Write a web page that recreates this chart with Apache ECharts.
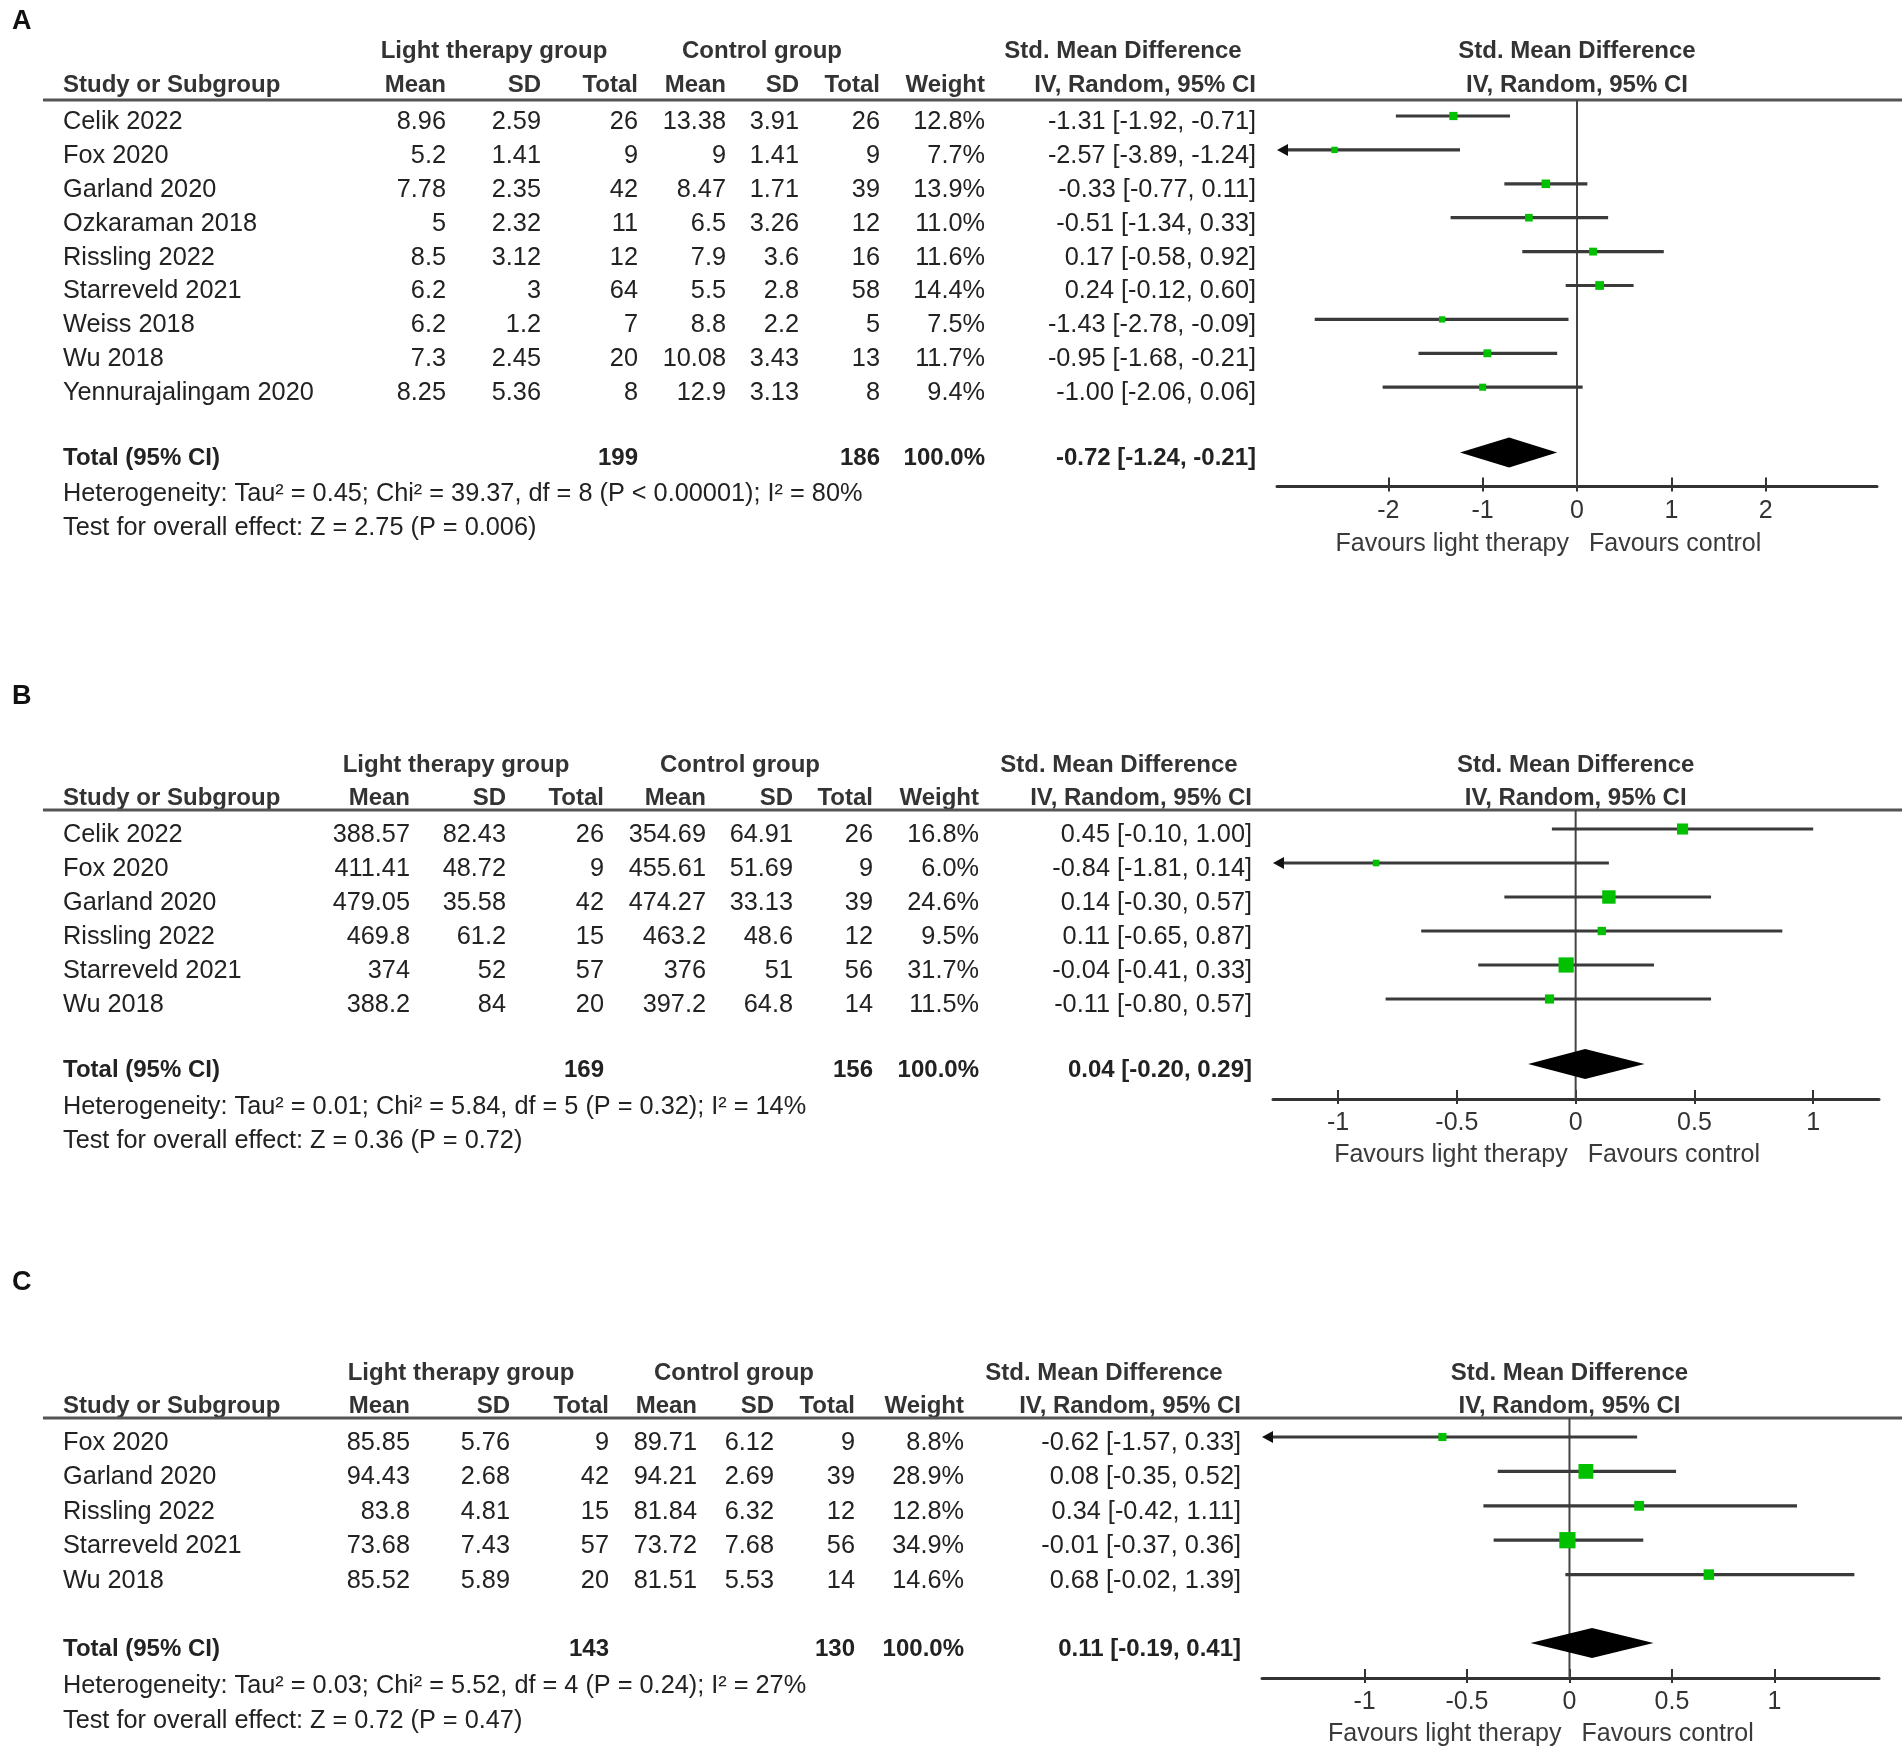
<!DOCTYPE html>
<html>
<head>
<meta charset="utf-8">
<script src="https://cdn.jsdelivr.net/npm/echarts@6/dist/echarts.min.js"></script>
<style>
html,body{margin:0;padding:0;background:#fff;}
#chart{width:1902px;height:1753px;}
</style>
</head>
<body>
<div id="chart"></div>
<script>
// ---------------- DATA: Panel A ----------------
const studiesA = ["Celik 2022","Fox 2020","Garland 2020","Ozkaraman 2018","Rissling 2022","Starreveld 2021","Weiss 2018","Wu 2018","Yennurajalingam 2020"];
const ltMeanA = [8.96,5.2,7.78,5,8.5,6.2,6.2,7.3,8.25];
const ltSdA   = [2.59,1.41,2.35,2.32,3.12,3,1.2,2.45,5.36];
const ltNA    = [26,9,42,11,12,64,7,20,8];
const cMeanA  = [13.38,9,8.47,6.5,7.9,5.5,8.8,10.08,12.9];
const cSdA    = [3.91,1.41,1.71,3.26,3.6,2.8,2.2,3.43,3.13];
const cNA     = [26,9,39,12,16,58,5,13,8];
const weightA = [12.8,7.7,13.9,11.0,11.6,14.4,7.5,11.7,9.4];
const smdA    = [-1.31,-2.57,-0.33,-0.51,0.17,0.24,-1.43,-0.95,-1.00];
const loA     = [-1.92,-3.89,-0.77,-1.34,-0.58,-0.12,-2.78,-1.68,-2.06];
const hiA     = [-0.71,-1.24,0.11,0.33,0.92,0.60,-0.09,-0.21,0.06];
const totalA  = {ltN:199, cN:186, est:-0.72, lo:-1.24, hi:-0.21};
const hetA    = "Heterogeneity: Tau² = 0.45; Chi² = 39.37, df = 8 (P < 0.00001); I² = 80%";
const testA   = "Test for overall effect: Z = 2.75 (P = 0.006)";
const ticksA  = [-2,-1,0,1,2];

// ---------------- DATA: Panel B ----------------
const studiesB = ["Celik 2022","Fox 2020","Garland 2020","Rissling 2022","Starreveld 2021","Wu 2018"];
const ltMeanB = [388.57,411.41,479.05,469.8,374,388.2];
const ltSdB   = [82.43,48.72,35.58,61.2,52,84];
const ltNB    = [26,9,42,15,57,20];
const cMeanB  = [354.69,455.61,474.27,463.2,376,397.2];
const cSdB    = [64.91,51.69,33.13,48.6,51,64.8];
const cNB     = [26,9,39,12,56,14];
const weightB = [16.8,6.0,24.6,9.5,31.7,11.5];
const smdB    = [0.45,-0.84,0.14,0.11,-0.04,-0.11];
const loB     = [-0.10,-1.81,-0.30,-0.65,-0.41,-0.80];
const hiB     = [1.00,0.14,0.57,0.87,0.33,0.57];
const totalB  = {ltN:169, cN:156, est:0.04, lo:-0.20, hi:0.29};
const hetB    = "Heterogeneity: Tau² = 0.01; Chi² = 5.84, df = 5 (P = 0.32); I² = 14%";
const testB   = "Test for overall effect: Z = 0.36 (P = 0.72)";
const ticksB  = [-1,-0.5,0,0.5,1];

// ---------------- DATA: Panel C ----------------
const studiesC = ["Fox 2020","Garland 2020","Rissling 2022","Starreveld 2021","Wu 2018"];
const ltMeanC = [85.85,94.43,83.8,73.68,85.52];
const ltSdC   = [5.76,2.68,4.81,7.43,5.89];
const ltNC    = [9,42,15,57,20];
const cMeanC  = [89.71,94.21,81.84,73.72,81.51];
const cSdC    = [6.12,2.69,6.32,7.68,5.53];
const cNC     = [9,39,12,56,14];
const weightC = [8.8,28.9,12.8,34.9,14.6];
const smdC    = [-0.62,0.08,0.34,-0.01,0.68];
const loC     = [-1.57,-0.35,-0.42,-0.37,-0.02];
const hiC     = [0.33,0.52,1.11,0.36,1.39];
const totalC  = {ltN:143, cN:130, est:0.11, lo:-0.19, hi:0.41};
const hetC    = "Heterogeneity: Tau² = 0.03; Chi² = 5.52, df = 4 (P = 0.24); I² = 27%";
const testC   = "Test for overall effect: Z = 0.72 (P = 0.47)";
const ticksC  = [-1,-0.5,0,0.5,1];

// ---------------- LAYOUT (pixels / styles) ----------------
const layouts = [
  {label:'A', labelY:22, h1:51, h2:85, rule:100, row0:122, step:33.9, total:458.5, het:494, test:528, axisY:486.5, fav:544,
   cols:[446,541,638,726,799,880,985,1256], grp:[494,762,1123], x0:1277, x1:1877, min:-3.18, max:3.18, sq:2.3},
  {label:'B', labelY:697, h1:765, h2:798, rule:810, row0:835, step:34, total:1070, het:1107, test:1141, axisY:1099, fav:1155,
   cols:[410,506,604,706,793,873,979,1252], grp:[456,740,1119], x0:1273, x1:1879, min:-1.274, max:1.277, sq:2.7},
  {label:'C', labelY:1283, h1:1373, h2:1406, rule:1418, row0:1443, step:34.4, total:1649, het:1686, test:1721, axisY:1678, fav:1734,
   cols:[410,510,609,697,774,855,964,1241], grp:[461,734,1104], x0:1262, x1:1879, min:-1.50, max:1.51, sq:2.75}
];
const datasets = [
  {studies:studiesA, ltMean:ltMeanA, ltSd:ltSdA, ltN:ltNA, cMean:cMeanA, cSd:cSdA, cN:cNA, weight:weightA, smd:smdA, lo:loA, hi:hiA, total:totalA, het:hetA, test:testA, ticks:ticksA},
  {studies:studiesB, ltMean:ltMeanB, ltSd:ltSdB, ltN:ltNB, cMean:cMeanB, cSd:cSdB, cN:cNB, weight:weightB, smd:smdB, lo:loB, hi:hiB, total:totalB, het:hetB, test:testB, ticks:ticksB},
  {studies:studiesC, ltMean:ltMeanC, ltSd:ltSdC, ltN:ltNC, cMean:cMeanC, cSd:cSdC, cN:cNC, weight:weightC, smd:smdC, lo:loC, hi:hiC, total:totalC, het:hetC, test:testC, ticks:ticksC}
];

const FONT = '"Liberation Sans", Arial, Helvetica, sans-serif';
const TXT = '#222';
const HDR = '#333';
const LINEC = '#3a3a3a';
const GREEN = '#00c000';
const ROW_OFF = -6;   // forest marks sit slightly above the text centre
const DIAM_H = 15;
const BODY_SIZE = 25.3;

function txt(x, y, s, align, bold, size, color) {
  return {
    type: 'text', x: x, y: y, silent: true,
    style: {
      text: s, fill: color || TXT,
      font: (bold ? 'bold ' : '') + (size || BODY_SIZE) + 'px ' + FONT,
      textAlign: align || 'left', textVerticalAlign: 'middle', verticalAlign: 'middle'
    }
  };
}
const f2 = v => v.toFixed(2);
const ciStr = (e, l, h) => f2(e) + ' [' + f2(l) + ', ' + f2(h) + ']';

const graphics = [];
const grids = [], xAxes = [], yAxes = [], series = [];

layouts.forEach((L, p) => {
  const D = datasets[p];
  const c = L.cols;
  const zeroX = L.x0 + (0 - L.min) / (L.max - L.min) * (L.x1 - L.x0);
  // panel label
  graphics.push(txt(12, L.labelY, L.label, 'left', true, 27, '#111'));
  // header row 1
  graphics.push(txt(L.grp[0], L.h1, 'Light therapy group', 'center', true, 24, HDR));
  graphics.push(txt(L.grp[1], L.h1, 'Control group', 'center', true, 24, HDR));
  graphics.push(txt(L.grp[2], L.h1, 'Std. Mean Difference', 'center', true, 24, HDR));
  graphics.push(txt(zeroX, L.h1, 'Std. Mean Difference', 'center', true, 24, HDR));
  // header row 2
  graphics.push(txt(63, L.h2, 'Study or Subgroup', 'left', true, 24, HDR));
  const h2 = ['Mean','SD','Total','Mean','SD','Total','Weight','IV, Random, 95% CI'];
  h2.forEach((h, i) => graphics.push(txt(c[i], L.h2, h, 'right', true, 24, HDR)));
  graphics.push(txt(zeroX, L.h2, 'IV, Random, 95% CI', 'center', true, 24, HDR));
  // rule under header
  graphics.push({type:'line', silent:true, shape:{x1:43, y1:L.rule, x2:1902, y2:L.rule}, style:{stroke:'#555', lineWidth:3}});
  // study rows
  D.studies.forEach((s, i) => {
    const y = L.row0 + i * L.step;
    graphics.push(txt(63, y, s, 'left'));
    const vals = [String(D.ltMean[i]), String(D.ltSd[i]), String(D.ltN[i]), String(D.cMean[i]), String(D.cSd[i]), String(D.cN[i]),
                  D.weight[i].toFixed(1) + '%', ciStr(D.smd[i], D.lo[i], D.hi[i])];
    vals.forEach((v, j) => graphics.push(txt(c[j], y, v, 'right')));
  });
  // total row
  graphics.push(txt(63, L.total, 'Total (95% CI)', 'left', true, 24));
  graphics.push(txt(c[2], L.total, String(D.total.ltN), 'right', true, 24));
  graphics.push(txt(c[5], L.total, String(D.total.cN), 'right', true, 24));
  graphics.push(txt(c[6], L.total, '100.0%', 'right', true, 24));
  graphics.push(txt(c[7], L.total, ciStr(D.total.est, D.total.lo, D.total.hi), 'right', true, 24));
  graphics.push(txt(63, L.het, D.het, 'left'));
  graphics.push(txt(63, L.test, D.test, 'left'));
  // favours labels
  graphics.push(txt(zeroX - 8, L.fav, 'Favours light therapy', 'right', false, 25, '#3a3a3a'));
  graphics.push(txt(zeroX + 12, L.fav, 'Favours control', 'left', false, 25, '#3a3a3a'));

  // forest grid
  const base = L.row0 + ROW_OFF;
  const yMin = (L.rule - base) / L.step;
  const yMax = (L.axisY - base) / L.step;
  const diamIdx = (L.total - L.row0) / L.step;
  const gH = L.axisY - L.rule;
  grids.push({left: L.x0, top: L.rule, width: L.x1 - L.x0, height: gH, containLabel: false});
  // main axis with ticks above the line + labels
  xAxes.push({
    gridIndex: p, type: 'value', min: L.min, max: L.max, position: 'bottom',
    axisLine: {show: true, onZero: false, lineStyle: {color: '#333', width: 3}},
    axisTick: {show: true, inside: true, length: 9, customValues: D.ticks, lineStyle: {color: '#333', width: 2}},
    axisLabel: {show: true, customValues: D.ticks, margin: 12, color: '#333', fontSize: 25, fontFamily: FONT},
    splitLine: {show: false}
  });
  // twin axis (top axis shifted down onto the bottom line) for the part of the ticks below the line
  xAxes.push({
    gridIndex: p, type: 'value', min: L.min, max: L.max, position: 'top', offset: -gH,
    axisLine: {show: false, onZero: false},
    axisTick: {show: true, inside: true, length: 5, customValues: D.ticks, lineStyle: {color: '#333', width: 2}},
    axisLabel: {show: false}, splitLine: {show: false}
  });
  yAxes.push({gridIndex: p, type: 'value', inverse: true, min: yMin, max: yMax, show: false, splitLine: {show: false}});

  const xi = p * 2;
  // zero reference line
  series.push({
    type: 'line', xAxisIndex: xi, yAxisIndex: p, symbol: 'none', silent: true, z: 1,
    lineStyle: {color: '#444', width: 2}, data: [[0, yMin], [0, yMax]], animation: false
  });
  // study CIs + squares
  const sqK = L.sq, axMin = L.min, axMax = L.max;
  series.push({
    type: 'custom', xAxisIndex: xi, yAxisIndex: p, z: 3, clip: false, silent: true, animation: false,
    data: D.studies.map((s, i) => [D.lo[i], D.hi[i], D.smd[i], i, D.weight[i]]),
    renderItem: function (params, api) {
      const lo = api.value(0), hi = api.value(1), est = api.value(2), row = api.value(3), w = api.value(4);
      const loC = Math.max(lo, axMin), hiC = Math.min(hi, axMax);
      const pL = api.coord([loC, row]), pH = api.coord([hiC, row]), pE = api.coord([est, row]);
      const children = [];
      const arrowL = lo < axMin, arrowR = hi > axMax;
      children.push({type: 'line', shape: {x1: pL[0] + (arrowL ? 8 : 0), y1: pL[1], x2: pH[0] - (arrowR ? 8 : 0), y2: pH[1]},
                     style: {stroke: LINEC, lineWidth: 3.2}});
      if (arrowL) children.push({type: 'polygon', shape: {points: [[pL[0], pL[1]], [pL[0] + 11, pL[1] - 6], [pL[0] + 11, pL[1] + 6]]}, style: {fill: '#111'}});
      if (arrowR) children.push({type: 'polygon', shape: {points: [[pH[0], pH[1]], [pH[0] - 11, pH[1] - 6], [pH[0] - 11, pH[1] + 6]]}, style: {fill: '#111'}});
      const side = sqK * Math.sqrt(w);
      children.push({type: 'rect', shape: {x: pE[0] - side / 2, y: pE[1] - side / 2, width: side, height: side}, style: {fill: GREEN}});
      return {type: 'group', children: children};
    }
  });
  // pooled diamond
  series.push({
    type: 'custom', xAxisIndex: xi, yAxisIndex: p, z: 4, clip: false, silent: true, animation: false,
    data: [[D.total.lo, D.total.hi, D.total.est, diamIdx]],
    renderItem: function (params, api) {
      const r = api.value(3);
      const a = api.coord([api.value(0), r]), b = api.coord([api.value(1), r]), e = api.coord([api.value(2), r]);
      return {type: 'polygon', shape: {points: [[a[0], a[1]], [e[0], e[1] - DIAM_H], [b[0], b[1]], [e[0], e[1] + DIAM_H]]},
              style: {fill: '#000'}};
    }
  });
});

const chart = echarts.init(document.getElementById('chart'), null, {renderer: 'canvas', width: 1902, height: 1753});
chart.setOption({
  backgroundColor: '#fff',
  animation: false,
  grid: grids,
  xAxis: xAxes,
  yAxis: yAxes,
  series: series,
  graphic: {elements: graphics}
});
</script>
</body>
</html>
